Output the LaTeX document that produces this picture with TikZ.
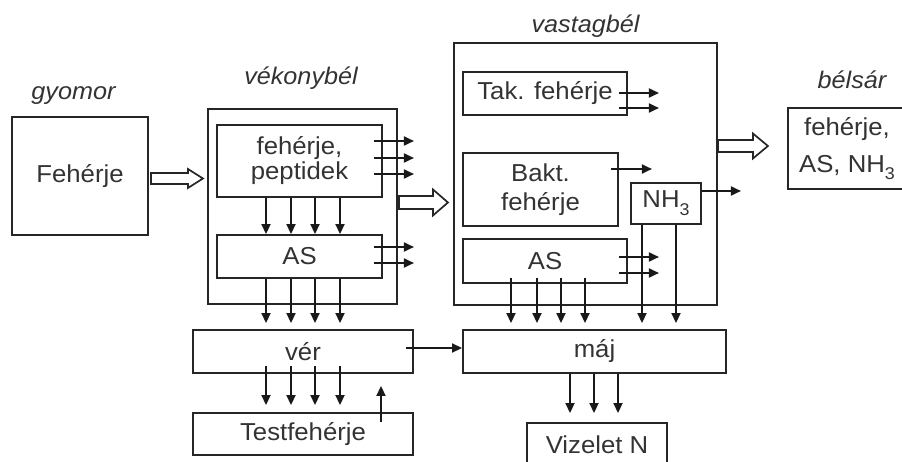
\documentclass[tikz,border=0pt]{standalone}
\usepackage{fontspec}
\setmainfont[FakeStretch=1.05]{Liberation Sans}
\usetikzlibrary{arrows.meta,calc}
\newcommand\hollowarr[5]{\draw[hollow] (#1) ++(0,-#3) -- ++({#2-#5},0) -- ++(0,{#3-#4}) -- ++(#5,#4) -- ++(-#5,#4) -- ++(0,{#3-#4}) -- ++({#5-#2},0) -- cycle;}
\newcommand\subthree{\raisebox{-0.32em}{\fontsize{17}{17}\selectfont 3}}
\begin{document}
\begin{tikzpicture}[x=1pt,y=-1pt,
  box/.style={draw=black!85, line width=1.9pt, rectangle, inner sep=0pt, text=black!80,
    font=\fontsize{24.5}{25}\selectfont, align=center},
  lbl/.style={text=black!80, font=\fontsize{24}{25}\selectfont\itshape, anchor=base, inner sep=0pt},
  arr/.style={draw=black!90, line width=1.8pt, -{Triangle[length=10pt,width=9pt]}},
  hollow/.style={draw=black!85, line width=1.7pt, fill=white, line join=miter}
]
\useasboundingbox (0,0) rectangle (902,462);

% labels
\node[lbl] (gy)  at (73.5,100) {gyomor};
\node[lbl] (vkl) at (301,85) {vékonybél};
\node[lbl] (vsl) at (585.5,33) {vastagbél};
\node[lbl] (bsl) at (852,89) {bélsár};

% boxes
\node[box, minimum width=136, minimum height=118] (st) at (80,176) {Fehérje};
\node[box, minimum width=189, minimum height=195] (vk) at (302.5,206.5) {};
\node[box, minimum width=165, minimum height=72, font=\fontsize{24.5}{25}\selectfont] (fp) at (299.5,161) {fehérje,\\peptidek};
\node[box, minimum width=165, minimum height=43] (as1) at (299.5,256.5) {AS};
\node[box, minimum width=220, minimum height=43] (ver) at (303,351.5) {vér};
\node[box, minimum width=220, minimum height=42] (tf) at (303,434) {Testfehérje};

\node[box, minimum width=263, minimum height=262] (vs) at (585.5,174) {};
\node[box, minimum width=164, minimum height=43] (tak) at (545,93.5) {Tak. fehérje};
\node[box, minimum width=155, minimum height=73, font=\fontsize{24.5}{29}\selectfont] (bakt) at (540.5,189.5) {Bakt.\\fehérje};
\node[box, minimum width=70, minimum height=41] (nh) at (666,203.5) {NH\subthree};
\node[box, minimum width=164, minimum height=44] (as2) at (545,261) {AS};
\node[box, minimum width=263, minimum height=43] (maj) at (594.5,351.5) {máj};
\node[box, minimum width=140, minimum height=43] (viz) at (597,444.5) {Vizelet N};
\node[box, minimum width=118, minimum height=81, font=\fontsize{24.5}{37}\selectfont] (bs) at (847,148.5) {fehérje,\\AS, NH\subthree};

% hollow arrows
\coordinate (h1) at ($(st.east)+(2,2.5)$);
\coordinate (h2) at ($(vk.east)+(1,-4)$);
\coordinate (h3) at ($(vs.east)+(0,-28)$);
\hollowarr{h1}{52}{5.5}{9.5}{15}
\hollowarr{h2}{49}{6.5}{13}{15}
\hollowarr{h3}{50}{6}{12.5}{15}

% vekonybel arrows
\foreach \y in {141,158,174} \draw[arr] (0,\y -| fp.east) ++(-9,0) -- ++(40,0);
\foreach \y in {247,263} \draw[arr] (0,\y -| as1.east) ++(-9,0) -- ++(40,0);
\foreach \x in {266,291,315,340} {
  \draw[arr] (\x,0 |- fp.south) -- (\x,0 |- as1.north);
  \draw[arr, shorten >=6pt] (\x,0 |- as1.south) -- (\x,0 |- ver.north);
  \draw[arr, shorten <=-8pt, shorten >=7pt] (\x,0 |- ver.south) -- (\x,0 |- tf.north);
}
\draw[arr, shorten <=-10pt, shorten >=12pt] (381,0 |- tf.north) -- (381,0 |- ver.south);
\draw[arr, shorten <=-8pt] ($(ver.east)+(0,-3.5)$) -- ($(maj.west)+(0,-3.5)$);

% vastagbel arrows
\foreach \y in {93,108} \draw[arr] (0,\y -| tak.east) ++(-9,0) -- ++(40,0);
\foreach \y in {257,273} \draw[arr] (0,\y -| as2.east) ++(-9,0) -- ++(40,0);
\draw[arr] (0,169 -| bakt.east) ++(-8,0) -- ++(41,0);
\draw[arr] (0,191 -| nh.east) -- ++(39,0);
\foreach \x in {511,537,561,585}
  \draw[arr, shorten <=-6pt, shorten >=6pt] (\x,0 |- as2.south) -- (\x,0 |- maj.north);
\foreach \x in {642,676}
  \draw[arr, shorten >=6pt] (\x,0 |- nh.south) -- (\x,0 |- maj.north);
\foreach \x in {570,594,618}
  \draw[arr, shorten >=9pt] (\x,0 |- maj.south) -- (\x,0 |- viz.north);
\end{tikzpicture}
\end{document}
